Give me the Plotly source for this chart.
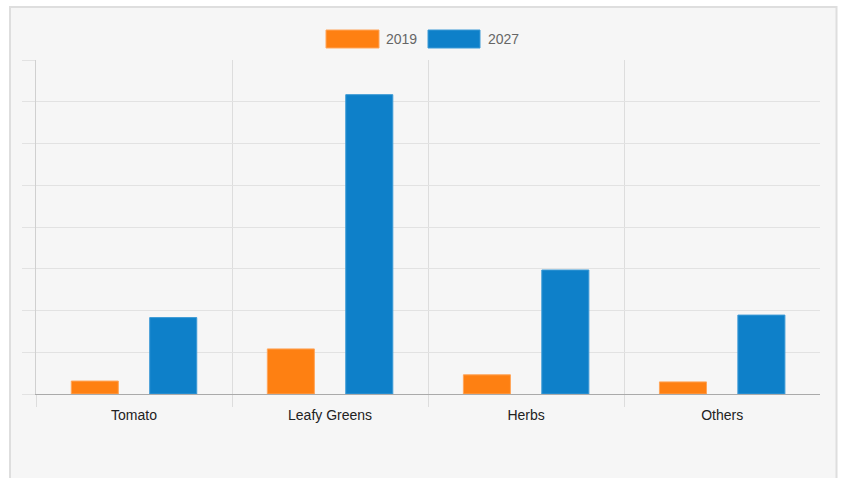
import plotly.graph_objects as go

categories = ["Tomato", "Leafy Greens", "Herbs", "Others"]
series_names = ["2019", "2027"]
values_2019 = [0.31, 1.08, 0.46, 0.29]
values_2027 = [1.83, 7.17, 2.97, 1.89]
colors = ["#fe8012", "#0e80c9"]
border_colors = ["#ffa55a", "#3d9ad6"]

W, H = 842, 478
ML, MT = 36, 60
MR = W - 820
MB = H - 394
pw, ph = W - ML - MR, H - MT - MB

def px(x):  # screen x -> paper
    return (x - ML) / pw

def py(y):  # screen y -> paper
    return (H - MB - y) / ph

fig = go.Figure()
for name, vals, c, bc in zip(series_names, [values_2019, values_2027], colors, border_colors):
    fig.add_trace(go.Bar(x=categories, y=vals, name=name, marker=dict(color=c, line=dict(color=bc, width=1)),
                         showlegend=False, hoverinfo="x+y"))

shapes = [
    dict(type="rect", xref="paper", yref="paper", x0=px(10), x1=px(836.5), y0=py(7), y1=py(490),
         fillcolor="#f6f6f6", line=dict(color="#dedede", width=2), layer="below"),
]
annotations = []
legend_boxes = [(326, 379, 384), (428, 480, 486)]
for (x0, x1, tx), name, c, bc in zip(legend_boxes, series_names, colors, border_colors):
    shapes.append(dict(type="rect", xref="paper", yref="paper", x0=px(x0), x1=px(x1), y0=py(48), y1=py(30),
                       fillcolor=c, line=dict(color=bc, width=1)))
    annotations.append(dict(xref="paper", yref="paper", x=px(tx), y=py(39), text=name, showarrow=False,
                            xanchor="left", yanchor="middle", font=dict(size=14, color="#666666",
                                                                         family="Liberation Sans, Arial, sans-serif")))

fig.update_layout(
    width=W, height=H,
    margin=dict(l=ML, r=MR, t=MT, b=MB),
    paper_bgcolor="white",
    plot_bgcolor="rgba(0,0,0,0)",
    barmode="group", bargap=0.2, bargroupgap=0.4,
    shapes=shapes, annotations=annotations,
    font=dict(family="Liberation Sans, Arial, sans-serif"),
    xaxis=dict(type="category", tickson="boundaries", range=[-0.5, 3.499], showgrid=True,
               gridcolor="#dddddd", gridwidth=1,
               ticks="outside", ticklen=12, tickcolor="#dddddd", showline=True, linecolor="#aaaaaa",
               ticklabelstandoff=8,
               tickfont=dict(size=14, color="#222222"), fixedrange=True),
    yaxis=dict(range=[0, 8], dtick=1, showticklabels=False, showgrid=True, gridcolor="#e2e2e2",
               ticks="outside", ticklen=13, tickcolor="#e2e2e2", showline=True, linecolor="#d0d0d0",
               zeroline=False, fixedrange=True),
)
fig.write_html("out.html", config={"displayModeBar": False},
               post_script="document.body.style.margin='0';document.body.style.overflow='hidden';")
